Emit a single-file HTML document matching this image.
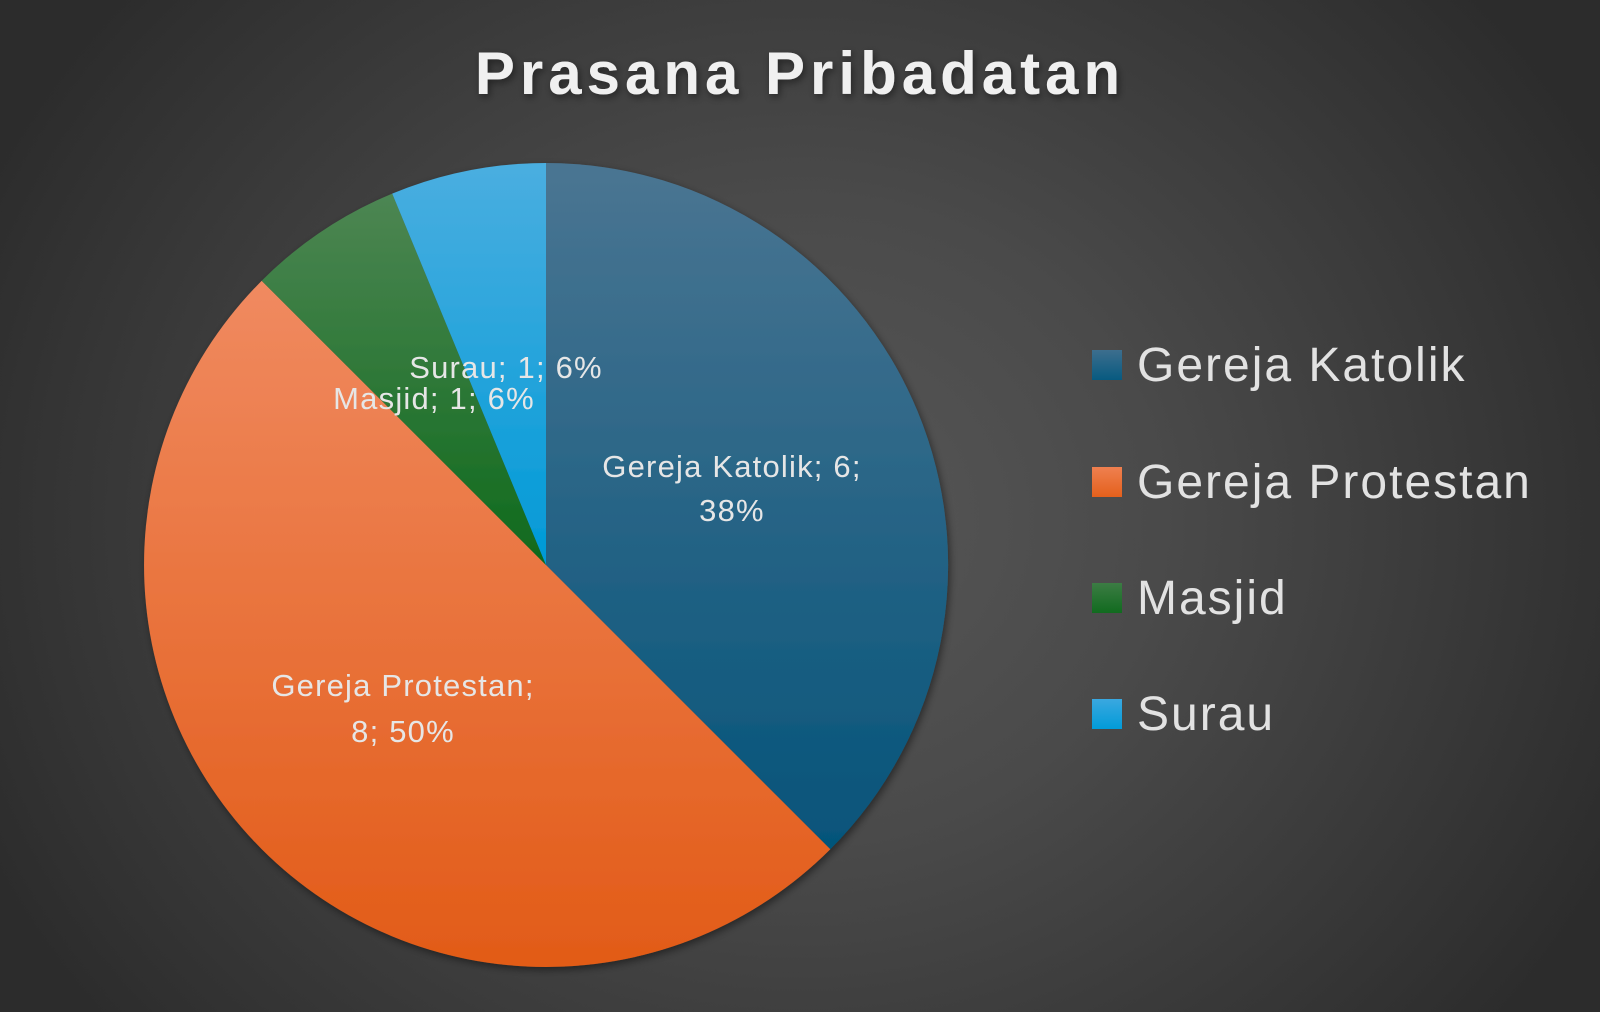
<!DOCTYPE html>
<html><head><meta charset="utf-8"><style>
html,body{margin:0;padding:0;width:1600px;height:1012px;overflow:hidden;}
body{background:radial-gradient(ellipse 900px 800px at 800px 520px,#575757 0%,#4a4a4a 40%,#2c2c2c 100%);font-family:"Liberation Sans","DejaVu Sans",sans-serif;}
</style></head><body>
<svg width="1600" height="1012" viewBox="0 0 1600 1012" xmlns="http://www.w3.org/2000/svg">
<defs>
<linearGradient id="gb" x1="0" y1="0" x2="0" y2="1"><stop offset="0" stop-color="#4a7592"/><stop offset="1" stop-color="#05547a"/></linearGradient>
<linearGradient id="go" x1="0" y1="0" x2="0" y2="1"><stop offset="0" stop-color="#f08a60"/><stop offset="1" stop-color="#e25b17"/></linearGradient>
<linearGradient id="gg" x1="0" y1="0" x2="0" y2="1"><stop offset="0" stop-color="#4d8653"/><stop offset="1" stop-color="#0f6a1c"/></linearGradient>
<linearGradient id="gs" x1="0" y1="0" x2="0" y2="1"><stop offset="0" stop-color="#4aaee0"/><stop offset="1" stop-color="#009ad7"/></linearGradient>
<linearGradient id="lb" x1="0" y1="0" x2="0" y2="1"><stop offset="0" stop-color="#3d6e8e"/><stop offset="1" stop-color="#075a80"/></linearGradient>
<linearGradient id="lo" x1="0" y1="0" x2="0" y2="1"><stop offset="0" stop-color="#ef8050"/><stop offset="1" stop-color="#e4601c"/></linearGradient>
<linearGradient id="lg" x1="0" y1="0" x2="0" y2="1"><stop offset="0" stop-color="#3c7c44"/><stop offset="1" stop-color="#116b1f"/></linearGradient>
<linearGradient id="ls" x1="0" y1="0" x2="0" y2="1"><stop offset="0" stop-color="#3aa8e0"/><stop offset="1" stop-color="#029bd8"/></linearGradient>
<filter id="sh" x="-10%" y="-10%" width="120%" height="120%"><feDropShadow dx="2" dy="3" stdDeviation="4" flood-color="#000" flood-opacity="0.45"/></filter>
</defs>
<text x="800" y="94" text-anchor="middle" font-size="60" font-weight="bold" letter-spacing="5" fill="#f0f0f0" filter="url(#sh)">Prasana Pribadatan</text>
<g filter="url(#sh)">
<path d="M546,565 L546,163 A402,402 0 0 1 830.3,849.3 Z" fill="url(#gb)"/>
<path d="M546,565 L830.3,849.3 A402,402 0 0 1 261.7,280.7 Z" fill="url(#go)"/>
<path d="M546,565 L261.7,280.7 A402,402 0 0 1 392.2,193.6 Z" fill="url(#gg)"/>
<path d="M546,565 L392.2,193.6 A402,402 0 0 1 546,163 Z" fill="url(#gs)"/>
</g>
<g fill="#e6e6e6" font-size="31" letter-spacing="1.2" text-anchor="middle">
<text x="732" y="477">Gereja Katolik; 6;</text>
<text x="732" y="521">38%</text>
<text x="506" y="378">Surau; 1; 6%</text>
<text x="434" y="409">Masjid; 1; 6%</text>
<text x="403" y="696">Gereja Protestan;</text>
<text x="403" y="742">8; 50%</text>
</g>
<rect x="1092" y="350" width="30" height="30" fill="url(#lb)"/>
<rect x="1092" y="467" width="30" height="30" fill="url(#lo)"/>
<rect x="1092" y="583" width="30" height="30" fill="url(#lg)"/>
<rect x="1092" y="699" width="30" height="30" fill="url(#ls)"/>
<g fill="#e2e2e2" font-size="48" letter-spacing="2">
<text x="1137" y="381">Gereja Katolik</text>
<text x="1137" y="498">Gereja Protestan</text>
<text x="1137" y="614">Masjid</text>
<text x="1137" y="730">Surau</text>
</g>
</svg>
</body></html>
